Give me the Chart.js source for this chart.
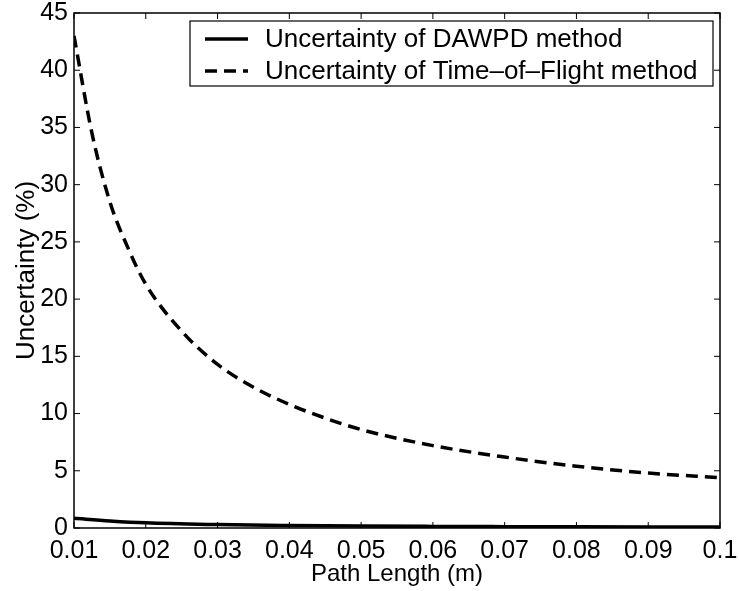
<!DOCTYPE html>
<html lang="en">
<head>
	<meta charset="UTF-8">
	<script src="https://cdn.jsdelivr.net/npm/chart.js"></script>
	<title>Uncertainty vs Path Length</title>
	<style>
		html, body { margin: 0; padding: 0; background: #fff; }
		canvas { display: block; }
	</style>
</head>
<body>
	<canvas id="myChart" width="739" height="591"></canvas>
	<script>
		// values
		const tofLength = [0.01, 0.0125, 0.015, 0.0175, 0.02, 0.025, 0.03, 0.035, 0.04, 0.045, 0.05, 0.06, 0.07, 0.08, 0.09, 0.1];
		const tofUncertainty = [43.0, 34.5, 28.5, 24.5, 21.3, 17.2, 14.3, 12.3, 10.8, 9.6, 8.6, 7.2, 6.2, 5.4, 4.8, 4.4];
		const dawpdLength = [0.01, 0.015, 0.02, 0.03, 0.04, 0.05, 0.06, 0.07, 0.08, 0.09, 0.1];
		const dawpdUncertainty = [0.85, 0.62, 0.45, 0.3, 0.22, 0.17, 0.14, 0.12, 0.1, 0.09, 0.08];
		const xTicks = [0.01, 0.02, 0.03, 0.04, 0.05, 0.06, 0.07, 0.08, 0.09, 0.1];
		const xTickLabels = ['0.01', '0.02', '0.03', '0.04', '0.05', '0.06', '0.07', '0.08', '0.09', '0.1'];
		const yTicks = [0, 5, 10, 15, 20, 25, 30, 35, 40, 45];
		const seriesNames = ['Uncertainty of DAWPD method', 'Uncertainty of Time\u2013of\u2013Flight method'];

		const FONT = 'Liberation Sans, Arial, Helvetica, sans-serif';

		const toPoints = (xs, ys) => xs.map((x, i) => ({ x: x, y: ys[i] }));

		// box around the plot, inward ticks on all four sides, legend inside the plot
		const framePlugin = {
			id: 'frame',
			afterDatasetsDraw(chart) {
				const { ctx, chartArea: a, scales } = chart;
				const tl = 6;
				ctx.save();
				ctx.strokeStyle = '#000';
				ctx.lineWidth = 1.5;
				ctx.strokeRect(a.left, a.top, a.right - a.left, a.bottom - a.top);
				ctx.beginPath();
				xTicks.forEach(v => {
					const px = scales.x.getPixelForValue(v);
					ctx.moveTo(px, a.bottom); ctx.lineTo(px, a.bottom - tl);
					ctx.moveTo(px, a.top); ctx.lineTo(px, a.top + tl);
				});
				yTicks.forEach(v => {
					const py = scales.y.getPixelForValue(v);
					ctx.moveTo(a.left, py); ctx.lineTo(a.left + tl, py);
					ctx.moveTo(a.right, py); ctx.lineTo(a.right - tl, py);
				});
				ctx.lineWidth = 1;
				ctx.stroke();

				// legend box
				const bx = a.right - 530, by = a.top + 8, bw = 523, bh = 65;
				ctx.fillStyle = '#fff';
				ctx.fillRect(bx, by, bw, bh);
				ctx.lineWidth = 1.2;
				ctx.strokeRect(bx, by, bw, bh);
				ctx.font = '26px ' + FONT;
				ctx.textBaseline = 'middle';
				ctx.fillStyle = '#000';
				chart.data.datasets.forEach((ds, i) => {
					const cy = by + 18 + i * 32;
					ctx.beginPath();
					ctx.setLineDash(ds.borderDash || []);
					ctx.lineWidth = ds.borderWidth;
					ctx.moveTo(bx + 15, cy);
					ctx.lineTo(bx + 58, cy);
					ctx.stroke();
					ctx.setLineDash([]);
					ctx.fillText(ds.label, bx + 75, cy + 1);
				});
				ctx.restore();
			}
		};

		window.onload = function () {
			const ctx = document.getElementById('myChart').getContext('2d');
			new Chart(ctx, {
				type: 'line',
				data: {
					datasets: [
						{
							label: seriesNames[0],
							data: toPoints(dawpdLength, dawpdUncertainty),
							borderColor: '#000',
							borderWidth: 3.5,
							pointRadius: 0,
							cubicInterpolationMode: 'monotone',
							fill: false
						},
						{
							label: seriesNames[1],
							data: toPoints(tofLength, tofUncertainty),
							borderColor: '#000',
							borderWidth: 3.5,
							borderDash: [12, 7],
							pointRadius: 0,
							cubicInterpolationMode: 'monotone',
							fill: false
						}
					]
				},
				options: {
					responsive: false,
					animation: false,
					layout: { padding: { top: 13, right: 19, left: 0, bottom: 0 } },
					plugins: {
						legend: { display: false },
						tooltip: { enabled: false }
					},
					scales: {
						x: {
							type: 'linear',
							min: 0.01,
							max: 0.1,
							afterBuildTicks: s => { s.ticks = xTicks.map(v => ({ value: v })); },
							afterFit: s => { s.height = 63; s.paddingLeft = 0; s.paddingRight = 0; },
							grid: { display: false, drawTicks: false },
							border: { display: false },
							ticks: {
								color: '#000',
								font: { family: FONT, size: 25, lineHeight: 1 },
								padding: 11,
								maxRotation: 0,
								autoSkip: false,
								callback: (v, i) => xTickLabels[i]
							},
							title: {
								display: true,
								text: 'Path Length (m)',
								color: '#000',
								font: { family: FONT, size: 24 },
								padding: { top: 0, bottom: 2 }
							}
						},
						y: {
							min: 0,
							max: 45,
							afterBuildTicks: s => { s.ticks = yTicks.map(v => ({ value: v })); },
							afterFit: s => { s.width = 74; s.paddingTop = 0; s.paddingBottom = 0; },
							grid: { display: false, drawTicks: false },
							border: { display: false },
							ticks: {
								color: '#000',
								font: { family: FONT, size: 25, lineHeight: 1 },
								padding: 6,
								autoSkip: false
							},
							title: {
								display: true,
								text: 'Uncertainty (%)',
								color: '#000',
								font: { family: FONT, size: 26 },
								padding: { top: 11, bottom: 0 }
							}
						}
					}
				},
				plugins: [framePlugin]
			});
		};
	</script>
</body>
</html>
